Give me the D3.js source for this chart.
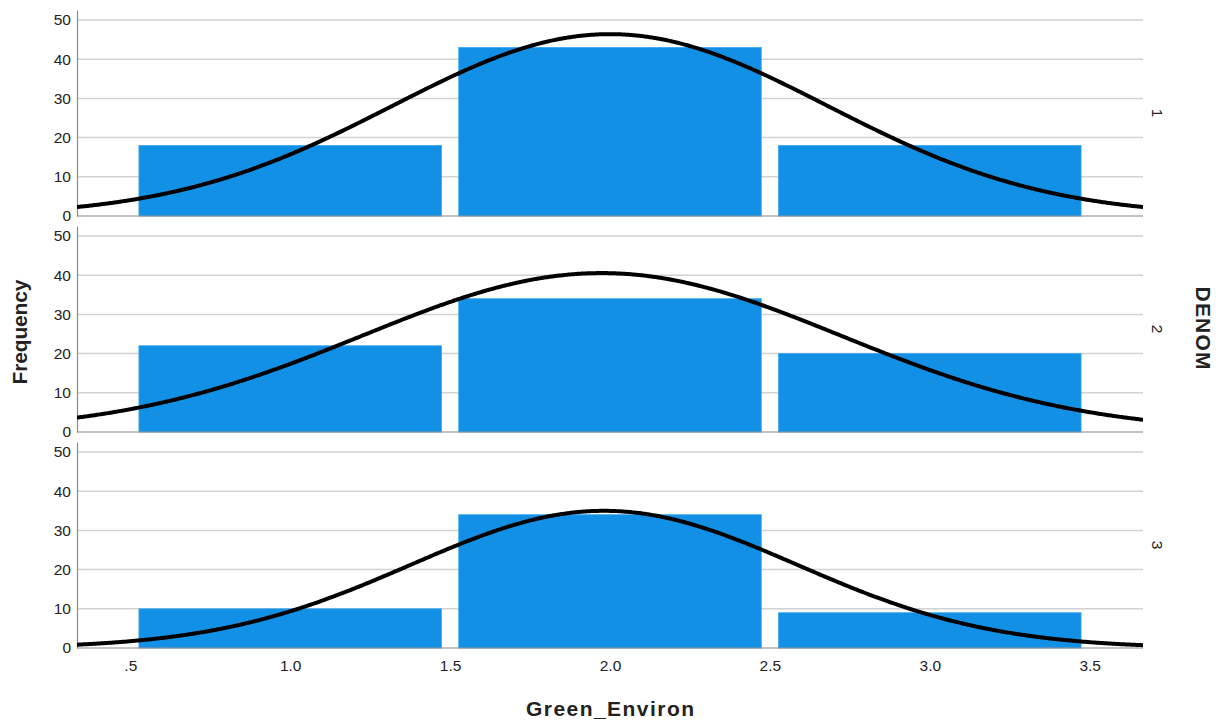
<!DOCTYPE html>
<html>
<head>
<meta charset="utf-8">
<script src="https://cdn.jsdelivr.net/npm/d3@7"></script>
<style>
	body { margin: 0; background: #fff; }
	text { font-family: Arial, "Liberation Sans", sans-serif; fill: #222; }
</style>
</head>
<body>
<svg id="chart" width="1219" height="723"></svg>
<script>

// categories on the x axis (bin centres) and panel labels
const binCentres = [1, 2, 3];
const panels = ["1", "2", "3"];

// frequencies per panel (DENOM = 1, 2, 3)
const freq1 = [18, 43, 18];
const freq2 = [22, 34, 20];
const freq3 = [10, 34, 9];
const freqs = [freq1, freq2, freq3];

const xTicks = [0.5, 1.0, 1.5, 2.0, 2.5, 3.0, 3.5];
const yTicks = [0, 10, 20, 30, 40, 50];

const svg = d3.select("#chart");

const left = 77, right = 1143;
const panelTop = 10, panelHeight = 206, panelStep = 216;

const x = d3.scaleLinear()
			.domain([1 / 3, 11 / 3])
			.range([left, right]);

const binWidth = 1, barGap = 0.027;

svg.append("defs").append("clipPath")
	.attr("id", "plotclip")
	.append("rect")
	.attr("x", left).attr("y", 0)
	.attr("width", right - left).attr("height", 723);

// normal curve fitted to the bars, scaled to counts
function normalFit(counts) {
	const n = d3.sum(counts);
	const mean = d3.sum(counts, (c, i) => c * binCentres[i]) / n;
	const ss = d3.sum(counts, (c, i) => c * (binCentres[i] - mean) ** 2);
	const sd = Math.sqrt(ss / (n - 1));
	return v => n * binWidth / (sd * Math.sqrt(2 * Math.PI)) *
				Math.exp(-0.5 * ((v - mean) / sd) ** 2);
}

freqs.forEach(function(counts, p) {

	const top = panelTop + p * panelStep;
	const bottom = top + panelHeight;

	const y = d3.scaleLinear()
				.domain([0, 52.55])
				.range([bottom, top]);

	const g = svg.append("g").classed("panel", true);

	// gridlines
	g.selectAll(".grid")
		.data(yTicks.filter(d => d > 0))
		.join("line")
		.attr("x1", left).attr("x2", right)
		.attr("y1", d => y(d)).attr("y2", d => y(d))
		.attr("stroke", "#d2d2d2")
		.attr("stroke-width", 1.5);

	// bars
	g.selectAll(".bar")
		.data(counts)
		.join("rect")
		.attr("x", (d, i) => x(binCentres[i] - binWidth / 2 + barGap))
		.attr("width", (d, i) => x(binCentres[i] + binWidth / 2 - barGap) - x(binCentres[i] - binWidth / 2 + barGap))
		.attr("y", d => y(d))
		.attr("height", d => y(0) - y(d))
		.attr("fill", "#1290e6")
		.attr("stroke", "#3aa6f0")
		.attr("stroke-width", 0.8);

	// baseline
	g.append("line")
		.attr("x1", left).attr("x2", right)
		.attr("y1", y(0)).attr("y2", y(0))
		.attr("stroke", "#8a8a8a")
		.attr("stroke-width", 1.2);

	// y axis
	const yAxis = g.append("g")
		.attr("transform", "translate(" + left + ",0)")
		.call(d3.axisLeft(y)
			.tickValues(yTicks)
			.tickSize(0)
			.tickPadding(6)
			.tickFormat(d3.format("d")));
	yAxis.select(".domain").attr("stroke", "#8a8a8a").attr("stroke-width", 1.2);
	yAxis.selectAll("text")
		.style("font-size", "15.5px")
		.attr("fill", "#222");

	// fitted normal curve
	const f = normalFit(counts);
	const pts = d3.range(0, 401).map(k => {
		const v = x.domain()[0] + k * (x.domain()[1] - x.domain()[0]) / 400;
		return [v, f(v)];
	});
	g.append("path")
		.datum(pts)
		.attr("clip-path", "url(#plotclip)")
		.attr("fill", "none")
		.attr("stroke", "#000")
		.attr("stroke-width", 4)
		.attr("d", d3.line().x(d => x(d[0])).y(d => y(d[1])).curve(d3.curveBasis));

	// panel label
	svg.append("text")
		.attr("transform", "translate(1157," + (top + bottom) / 2 + ") rotate(90)")
		.attr("text-anchor", "middle")
		.attr("dy", "0.35em")
		.style("font-size", "15.5px")
		.text(panels[p]);
});

// x axis labels
const xAxis = svg.append("g")
	.attr("transform", "translate(0," + (panelTop + 2 * panelStep + panelHeight) + ")")
	.call(d3.axisBottom(x)
		.tickValues(xTicks)
		.tickSize(0)
		.tickPadding(12)
		.tickFormat(d => d === 0.5 ? ".5" : d3.format(".1f")(d)));
xAxis.select(".domain").remove();
xAxis.selectAll("text").style("font-size", "15.5px").attr("fill", "#222");

// titles
svg.append("text")
	.attr("x", 610).attr("y", 716)
	.attr("text-anchor", "middle")
	.attr("textLength", 168)
	.attr("lengthAdjust", "spacing")
	.style("font-size", "21px")
	.style("font-weight", "bold")
	.text("Green_Environ");

svg.append("text")
	.attr("transform", "translate(20,332) rotate(-90)")
	.attr("text-anchor", "middle")
	.attr("dy", "0.35em")
	.attr("textLength", 105)
	.attr("lengthAdjust", "spacing")
	.style("font-size", "21px")
	.style("font-weight", "bold")
	.text("Frequency");

svg.append("text")
	.attr("transform", "translate(1203,328) rotate(90)")
	.attr("text-anchor", "middle")
	.attr("dy", "0.35em")
	.attr("textLength", 83)
	.attr("lengthAdjust", "spacing")
	.style("font-size", "21px")
	.style("font-weight", "bold")
	.text("DENOM");

</script>
</body>
</html>
